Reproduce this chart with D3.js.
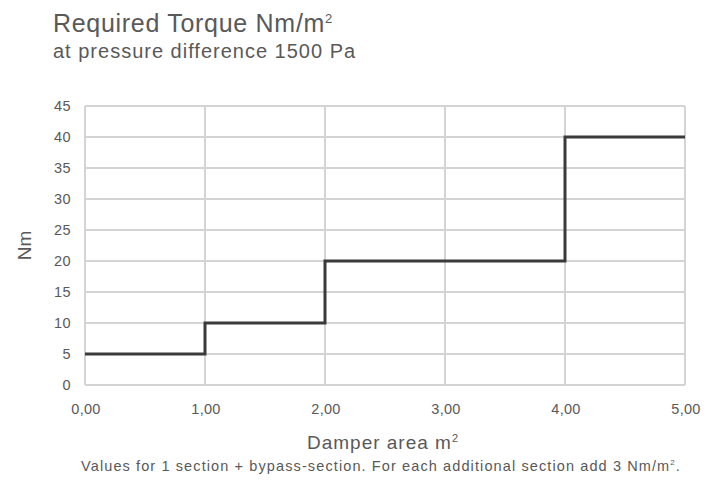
<!DOCTYPE html>
<html><head><meta charset="utf-8">
<script src="https://cdn.jsdelivr.net/npm/d3@7"></script>
<style>body{margin:0;background:#fff}svg{display:block;font-family:"Liberation Sans",Arial,sans-serif}</style>
</head><body><svg width="704" height="487"></svg>
<script>
const stepX = [0, 1, 2, 4, 5];
const stepY = [5, 10, 20, 40, 40];
const xTicks = [0, 1, 2, 3, 4, 5];
const yTicks = [0, 5, 10, 15, 20, 25, 30, 35, 40, 45];
const title = "Required Torque Nm/m";
const subtitle = "at pressure difference 1500 Pa";
const xTitle = "Damper area m";
const yTitle = "Nm";
const footnote = "Values for 1 section + bypass-section. For each additional section add 3 Nm/m";

const svg = d3.select("svg");
const m = {l: 85, r: 19, t: 106, b: 102};
const W = 704, H = 487;
const x = d3.scaleLinear().domain([0, 5]).range([m.l, W - m.r]);
const y = d3.scaleLinear().domain([0, 45]).range([H - m.b, m.t]);
const txt = "#595959", grid = "#d4d4d4";

// fit text to a target width via letter-spacing (mimics wide tracking)
function fit(sel, target) {
  const node = sel.node();
  const n = node.textContent.length;
  const w = node.getBBox().width;
  sel.attr("letter-spacing", (target - w) / n);
}

// grid
svg.append("g").selectAll("line").data(yTicks).join("line")
  .attr("x1", x(0)).attr("x2", x(5)).attr("y1", d => y(d)).attr("y2", d => y(d))
  .attr("stroke", grid).attr("stroke-width", 1.3).attr("shape-rendering","crispEdges");
svg.append("g").selectAll("line").data(xTicks).join("line")
  .attr("y1", y(0)).attr("y2", y(45)).attr("x1", d => x(d)).attr("x2", d => x(d))
  .attr("stroke", grid).attr("stroke-width", 1.3).attr("shape-rendering","crispEdges");

// axis labels
svg.append("g").selectAll("text").data(yTicks).join("text")
  .attr("x", 71).attr("y", d => y(d)).attr("dy", "0.36em")
  .attr("text-anchor", "end").attr("font-size", 14.5).attr("letter-spacing", 0.4)
  .attr("fill", txt).text(d => d);
svg.append("g").selectAll("text").data(xTicks).join("text")
  .attr("x", d => x(d) + 1).attr("y", y(0) + 29)
  .attr("text-anchor", "middle").attr("font-size", 14.5).attr("letter-spacing", 0.3)
  .attr("fill", txt)
  .text(d => d3.format(".2f")(d).replace(".", ","));

// step line
const pts = stepX.map((v, i) => [v, stepY[i]]);
svg.append("path").datum(pts)
  .attr("d", d3.line().x(d => x(d[0])).y(d => y(d[1])).curve(d3.curveStepAfter))
  .attr("fill", "none").attr("stroke", "#3a3a3a").attr("stroke-width", 3);

function sup(sel, base, size, dy) {
  sel.text(base);
  sel.append("tspan").attr("font-size", size).attr("dy", -dy).text("2");
}
// titles
const t1 = svg.append("text").attr("x", 53).attr("y", 32).attr("font-size", 25).attr("fill", txt).call(sup, title, 13, 9);
fit(t1, 280);
const t2 = svg.append("text").attr("x", 53).attr("y", 58).attr("font-size", 20).attr("fill", txt).text(subtitle);
fit(t2, 304);
const xt = svg.append("text").attr("x", 383).attr("y", 449).attr("text-anchor", "middle")
  .attr("font-size", 19).attr("fill", txt).call(sup, xTitle, 11, 7);
fit(xt, 152);
svg.append("text").attr("transform", `translate(31,${(y(0)+y(45))/2}) rotate(-90)`)
  .attr("text-anchor", "middle").attr("font-size", 19).attr("fill", txt).text(yTitle);
const fn = svg.append("text").attr("x", 381).attr("y", 471).attr("text-anchor", "middle")
  .attr("font-size", 14.5).attr("fill", txt);
fn.text(footnote);
fn.append("tspan").attr("font-size", 8).attr("dy", -6).text("2");
fn.append("tspan").attr("dy", 6).text(".");
fit(fn, 600);
</script></body></html>
